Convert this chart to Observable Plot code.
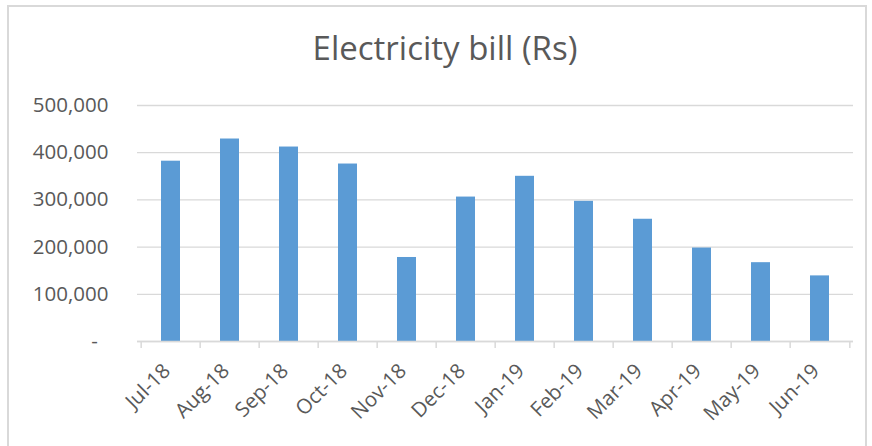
<!DOCTYPE html>
<html><head><meta charset="utf-8">
<script src="https://cdn.jsdelivr.net/npm/d3@7"></script>
<script src="https://cdn.jsdelivr.net/npm/@observablehq/plot@0.6"></script>
<style>
body{margin:0;background:#fff;}
#wrap{position:relative;width:872px;height:446px;overflow:hidden;background:#fff;font-family:"Open Sans",sans-serif;}
#frame{position:absolute;left:7px;top:5px;width:860px;height:480px;border:2px solid #d9d9d9;box-sizing:border-box;pointer-events:none;}
#title{position:relative;height:80px;box-sizing:border-box;padding-top:28px;padding-left:18px;line-height:40px;text-align:center;font-size:33px;color:#595959;}
#chart svg{display:block;}
</style></head>
<body>
<div id="wrap">
  <div id="frame"></div>
  <div id="title">Electricity bill (Rs)</div>
  <div id="chart"></div>
</div>
<script>
const months = ["Jul-18","Aug-18","Sep-18","Oct-18","Nov-18","Dec-18","Jan-19","Feb-19","Mar-19","Apr-19","May-19","Jun-19"];
const bills = [382000, 429000, 412000, 376000, 178000, 306000, 350000, 297000, 259000, 198000, 167000, 139000];
const yTicks = [0, 100000, 200000, 300000, 400000, 500000];

const data = months.map((m, i) => ({month: m, bill: bills[i]}));

const W = 872, H = 366, ML = 137, MR = 19, MT = 25, MB = 105;
const step = (W - ML - MR) / months.length;
const fmt = d3.format(",");
const grey = "#d9d9d9", text = "#595959";

const plot = Plot.plot({
  width: W, height: H,
  marginLeft: ML, marginRight: MR, marginTop: MT, marginBottom: MB,
  style: {fontFamily: "'Open Sans', sans-serif", color: text, background: "transparent"},
  x: {domain: months, paddingInner: 0.68, paddingOuter: 0.34, axis: null},
  y: {domain: [0, 500000], axis: null},
  marks: [
    Plot.gridY(yTicks, {stroke: grey, strokeOpacity: 1, strokeWidth: 1.3}),
    Plot.barY(data, {x: "month", y: "bill", fill: "#5b9bd5"}),
    Plot.ruleY([0], {stroke: grey, strokeWidth: 1.5}),
    Plot.ruleX(months, {x: d => d, y1: 0, y2: 0, insetBottom: -7, dx: -step / 2, stroke: grey, strokeWidth: 1.5}),
    Plot.ruleX([months[months.length - 1]], {x: d => d, y1: 0, y2: 0, insetBottom: -7, dx: step / 2, stroke: grey, strokeWidth: 1.5}),
    Plot.axisY(yTicks, {tickSize: 0, tickPadding: 29, fontSize: 20.5, fill: text, label: null,
      tickFormat: d => d === 0 ? "-\u00a0\u00a0" : fmt(d)}),
    Plot.axisX({tickSize: 0, tickPadding: 26, tickRotate: -45, fontSize: 20.5, fill: text, dx: -4, label: null})
  ]
});
document.getElementById("chart").appendChild(plot);
</script>
</body></html>
